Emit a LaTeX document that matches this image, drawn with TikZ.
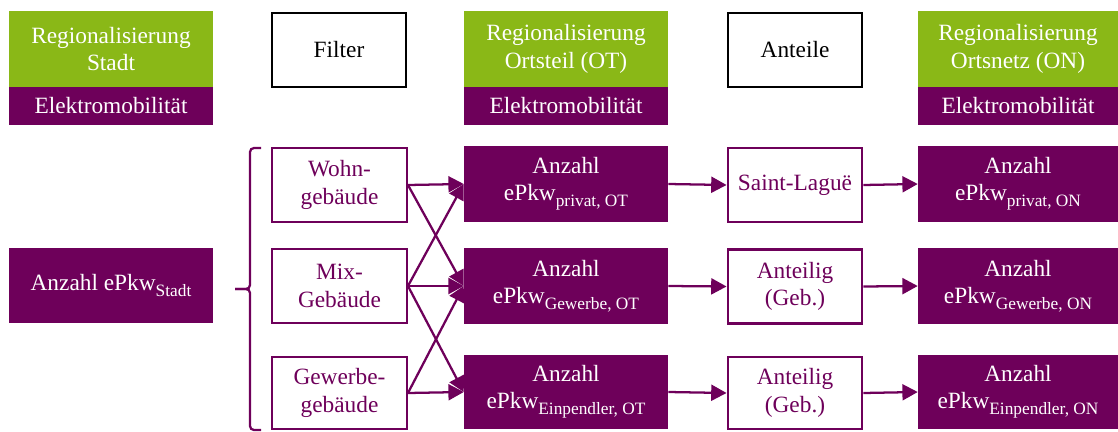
\documentclass[tikz,border=0pt]{standalone}
\usepackage{fontspec}
\setmainfont{Liberation Serif}
\usetikzlibrary{arrows.meta}
\definecolor{purp}{RGB}{110,0,90}
\definecolor{grn}{RGB}{138,184,23}
\newcommand\mysub[1]{\raisebox{-4.5pt}{\fontsize{13}{15}\selectfont #1}}
\begin{document}
\begin{tikzpicture}[x=0.75pt,y=-0.75pt,
  txt/.style={font=\fontsize{17.5}{20.5}\selectfont, align=center, inner sep=0pt},
  greenbox/.style={txt, fill=grn, text=white, minimum width=153pt, minimum height=57pt},
  elbox/.style={txt, fill=purp, text=white, minimum width=153pt, minimum height=28.5pt},
  headbox/.style={txt, draw=black, line width=1.6pt, text=black, minimum width=100.5pt, minimum height=55.5pt},
  filterbox/.style={txt, draw=purp, line width=1.7pt, text=purp, minimum width=101pt, minimum height=55.5pt},
  countbox/.style={txt, fill=purp, text=white, minimum width=153pt, minimum height=57pt},
  arr/.style={draw=purp, line width=1.7pt, -{Triangle[length=11.5pt,width=12pt]}}
]
\useasboundingbox (0,0) rectangle (1118,432);
% header row
\node[greenbox] (g1) at (111,49) {Regionalisierung\\Stadt};
\node[elbox] (e1) at (111,106) {Elektromobilität};
\node[headbox] (hf) at (339,50) {Filter};
\node[greenbox] (g2) at (566,49) {Regionalisierung\\Ortsteil (OT)};
\node[elbox] (e2) at (566,106) {Elektromobilität};
\node[headbox] (ha) at (795,50) {Anteile};
\node[greenbox, minimum width=150pt] (g3) at (1018,49) {Regionalisierung\\Ortsnetz (ON)};
\node[elbox, minimum width=150pt] (e3) at (1018,106) {Elektromobilität};
% city
\node[countbox, minimum height=56pt] (st) at (111,285.5) {Anzahl ePkw\mysub{Stadt}};
% brace
\coordinate (bt) at (261,148);
\coordinate (bm) at (235,289);
\coordinate (bb) at (261,430);
\draw[purp, line width=1.7pt, rounded corners=3pt] (bt) -| (250,289) -- (bm);
\draw[purp, line width=1.7pt, rounded corners=3pt] (bm) -- (250,289) |- (bb);
% filter boxes
\node[filterbox] (f1) at (339.5,185) {Wohn-\\gebäude};
\node[filterbox] (f2) at (339.5,286) {Mix-\\Gebäude};
\node[filterbox, minimum height=54pt] (f3) at (339.5,393) {Gewerbe-\\gebäude};
% OT boxes
\node[countbox] (o1) at (566,184) {Anzahl\\ePkw\mysub{privat, OT}};
\node[countbox] (o2) at (566,286) {Anzahl\\ePkw\mysub{Gewerbe, OT}};
\node[countbox, minimum height=55.5pt] (o3) at (566,392) {Anzahl\\ePkw\mysub{Einpendler, OT}};
% share boxes
\node[filterbox] (a1) at (795,185) {Saint-Laguë};
\node[filterbox] (a2) at (795,286.5) {Anteilig\\(Geb.)};
\node[filterbox, minimum height=54pt] (a3) at (795,393) {Anteilig\\(Geb.)};
% ON boxes
\node[countbox, minimum width=150pt] (n1) at (1018,184) {Anzahl\\ePkw\mysub{privat, ON}};
\node[countbox, minimum width=150pt] (n2) at (1018,286) {Anzahl\\ePkw\mysub{Gewerbe, ON}};
\node[countbox, minimum width=150pt, minimum height=55.5pt] (n3) at (1018,392) {Anzahl\\ePkw\mysub{Einpendler, ON}};
% connectors
\draw[arr] (f1.east) -- (o1.west);
\draw[arr] (f1.east) -- (o2.west);
\draw[arr] (f2.east) -- (o1.west);
\draw[arr] (f2.east) -- (o2.west);
\draw[arr] (f2.east) -- (o3.west);
\draw[arr] (f3.east) -- (o2.west);
\draw[arr] (f3.east) -- (o3.west);
\draw[arr] (o1.east) -- (a1.west);
\draw[arr] (o2.east) -- (a2.west);
\draw[arr] (o3.east) -- (a3.west);
\draw[arr] (a1.east) -- (n1.west);
\draw[arr] (a2.east) -- (n2.west);
\draw[arr] (a3.east) -- (n3.west);
\end{tikzpicture}
\end{document}
